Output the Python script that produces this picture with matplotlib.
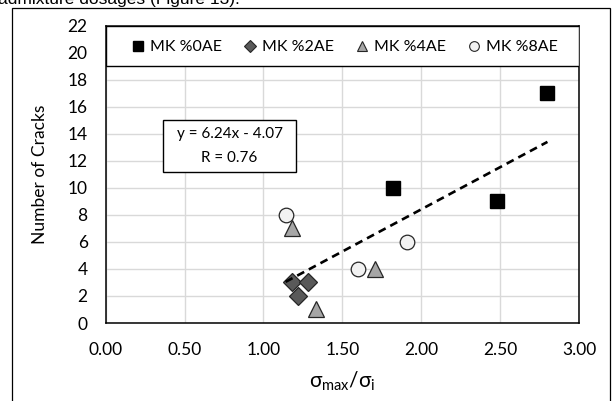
import numpy as np
import matplotlib
matplotlib.use("Agg")
import matplotlib.pyplot as plt
from matplotlib.patches import Rectangle
from matplotlib.lines import Line2D

plt.rcParams['font.family'] = ['Lato', 'DejaVu Sans']
plt.rcParams['mathtext.fontset'] = 'custom'
plt.rcParams['mathtext.rm'] = 'Lato'
plt.rcParams['mathtext.it'] = 'Lato:italic'

# ---- data ----
series_names = ["MK %0AE", "MK %2AE", "MK %4AE", "MK %8AE"]
x_0ae = [1.82, 2.48, 2.80]
y_0ae = [10, 9, 17]
x_2ae = [1.18, 1.28, 1.22]
y_2ae = [3, 3, 2]
x_4ae = [1.18, 1.71, 1.33]
y_4ae = [7, 4, 1]
x_8ae = [1.14, 1.60, 1.91]
y_8ae = [8, 4, 6]
trend_slope = 6.24
trend_intercept = -4.07
trend_r = 0.76
x_ticks = [0.0, 0.5, 1.0, 1.5, 2.0, 2.5, 3.0]
y_ticks = list(range(0, 23, 2))

W, H = 614, 401
fig = plt.figure(figsize=(W / 100, H / 100), dpi=100)
fig.patch.set_facecolor('white')

# cropped caption text at the very top
fig.text(-2 / W, (H - 4) / H, "admixture dosages (Figure 13).", fontsize=12.5,
         family=['Liberation Sans'], ha='left', va='baseline')

# outer frame
fig.patches.append(Rectangle((12 / W, -0.02), (610 - 12) / W, 1.02 - 7.5 / H,
                             transform=fig.transFigure, fill=False,
                             edgecolor='black', linewidth=0.9))

L, R, T, B = 105.7, 579, 25.7, 323
ax = fig.add_axes([L / W, (H - B) / H, (R - L) / W, (B - T) / H])
ax.set_xlim(0, 3.0)
ax.set_ylim(0, 22)
ax.set_xticks(x_ticks)
ax.set_xticklabels([f"{v:.2f}" for v in x_ticks])
ax.set_yticks(y_ticks)
ax.tick_params(length=0, labelsize=12.5)
ax.tick_params(axis='x', pad=14)
ax.tick_params(axis='y', pad=13)
ax.grid(True, color='#d9d9d9', linewidth=1.0)
ax.set_axisbelow(True)
for s in ax.spines.values():
    s.set_color('black')
    s.set_linewidth(1.1)

# trendline
xmin = min(x_0ae + x_2ae + x_4ae + x_8ae)
xmax = max(x_0ae + x_2ae + x_4ae + x_8ae)
xt = np.array([xmin, xmax])
ax.plot(xt, trend_slope * xt + trend_intercept, color='black', lw=1.9,
        dashes=(3, 2), zorder=4)

ax.plot(x_0ae, y_0ae, 's', ms=10, mfc='black', mec='black', zorder=3)
ax.plot(x_2ae, y_2ae, 'D', ms=9.5, mfc='#595959', mec='#262626', mew=0.9, zorder=3)
ax.plot(x_4ae, y_4ae, '^', ms=12, mfc='#a6a6a6', mec='#262626', mew=0.9, zorder=3)
ax.plot(x_8ae, y_8ae, 'o', ms=10.5, mfc='#f2f2f2', mec='#262626', mew=0.9, zorder=3)

# legend panel at top of plot
ax.add_patch(Rectangle((0, 19), 3.0, 3.0, facecolor='white', edgecolor='black',
                       linewidth=1.0, zorder=5))
handles = [
    Line2D([], [], ls='none', marker='s', ms=7.2, mfc='black', mec='black'),
    Line2D([], [], ls='none', marker='D', ms=6, mfc='#595959', mec='#262626', mew=0.8),
    Line2D([], [], ls='none', marker='^', ms=7.5, mfc='#a6a6a6', mec='#262626', mew=0.8),
    Line2D([], [], ls='none', marker='o', ms=7, mfc='#f2f2f2', mec='#262626', mew=0.8),
]
leg = ax.legend(handles, series_names, loc='center', bbox_to_anchor=(0.5056, 20.4 / 22),
                ncol=4, frameon=False, fontsize=11.5, handlelength=0.7,
                handletextpad=0.4, columnspacing=1.4)
leg.set_zorder(6)

# equation box
ax.add_patch(Rectangle((0.363, 11.2), 1.206 - 0.363, 15.05 - 11.2, facecolor='white',
                       edgecolor='black', linewidth=1.0, zorder=5))
ax.text(0.785, 13.95, f"y = {trend_slope:.2f}x - {abs(trend_intercept):.2f}",
        ha='center', va='center', fontsize=11, zorder=6)
ax.text(0.785, 12.2, f"R = {trend_r:.2f}", ha='center', va='center',
        fontsize=11, zorder=6)

ax.set_ylabel("Number of Cracks", fontsize=12.5, labelpad=14)
ax.set_xlabel(r"σ$_{\mathrm{max}}$/σ$_{\mathrm{i}}$", fontsize=15, labelpad=8)

fig.savefig("out.png", dpi=100)
